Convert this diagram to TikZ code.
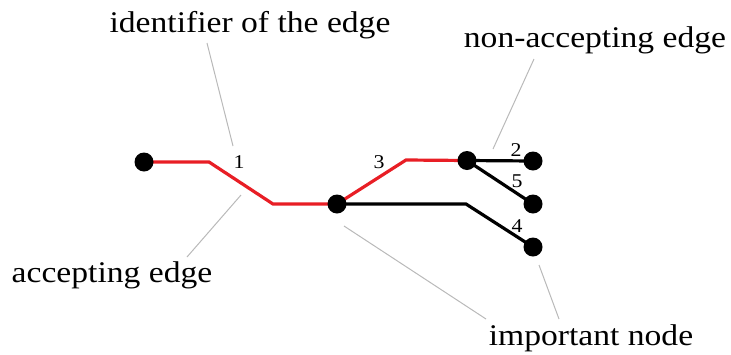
\documentclass[tikz,border=0pt]{standalone}
\usepackage{fontspec}
\setmainfont[FakeStretch=1.12]{Liberation Serif}
\definecolor{accred}{RGB}{232,30,37}
\definecolor{pingray}{RGB}{185,185,185}
\tikzset{
  vertex/.style={circle,fill=black,inner sep=0pt,minimum size=19pt},
  accedge/.style={accred,line width=3.2pt,line join=miter},
  nonedge/.style={black,line width=3.2pt,line join=miter},
  pin line/.style={pingray,line width=1pt},
  label text/.style={font=\fontsize{30}{32}\selectfont,anchor=base,inner sep=0pt},
  edge id/.style={font=\fontsize{19.5}{21}\selectfont,inner sep=0pt}
}
\begin{document}
\begin{tikzpicture}[x=1pt,y=-1pt]
\useasboundingbox (0,0) rectangle (731,354);
% bends
\coordinate (b1) at (209,162);
\coordinate (b2) at (273,204);
\coordinate (b3) at (406,160);
\coordinate (b4) at (466,204);
% edges
\draw[accedge] (144,162) coordinate (pa) -- (b1) -- (b2) -- (337,204) coordinate (pb);
\draw[accedge] (pb) -- (b3) -- (467,160.5) coordinate (pc);
\draw[nonedge] (pc) -- (533,161) coordinate (pd);
\draw[nonedge] (pc) -- (533,204) coordinate (pe);
\draw[nonedge] (pb) -- (b4) -- (533,247) coordinate (pf);
% vertices
\node[vertex] (A) at (pa) {};
\node[vertex] (B) at (pb) {};
\node[vertex] (C) at (pc) {};
\node[vertex] (D) at (pd) {};
\node[vertex] (E) at (pe) {};
\node[vertex] (F) at (pf) {};
% edge identifiers
\node[edge id] (n1) at (239,162) {1};
\node[edge id] (n3) at (379,162) {3};
\node[edge id] (n2) at (516,150) {2};
\node[edge id] (n5) at (517,181) {5};
\node[edge id] (n4) at (517,226) {4};
% labels
\node[label text] (tid) at (250,32) {identifier of the edge};
\node[label text] (tna) at (595,47) {non-accepting edge};
\node[label text] (tac) at (112,282) {accepting edge};
\node[label text] (tim) at (591,345) {important node};
% pin lines
\coordinate (p1a) at (207,43);  \coordinate (p1b) at (233,146);
\coordinate (p2a) at (534,59);  \coordinate (p2b) at (493,149);
\coordinate (p3a) at (241,195); \coordinate (p3b) at (187,257);
\coordinate (p4a) at (344,226); \coordinate (p4b) at (486,319);
\coordinate (p5a) at (539,265); \coordinate (p5b) at (559,319);
\draw[pin line] (p1a) -- (p1b);
\draw[pin line] (p2a) -- (p2b);
\draw[pin line] (p3a) -- (p3b);
\draw[pin line] (p4a) -- (p4b);
\draw[pin line] (p5a) -- (p5b);
\end{tikzpicture}
\end{document}
